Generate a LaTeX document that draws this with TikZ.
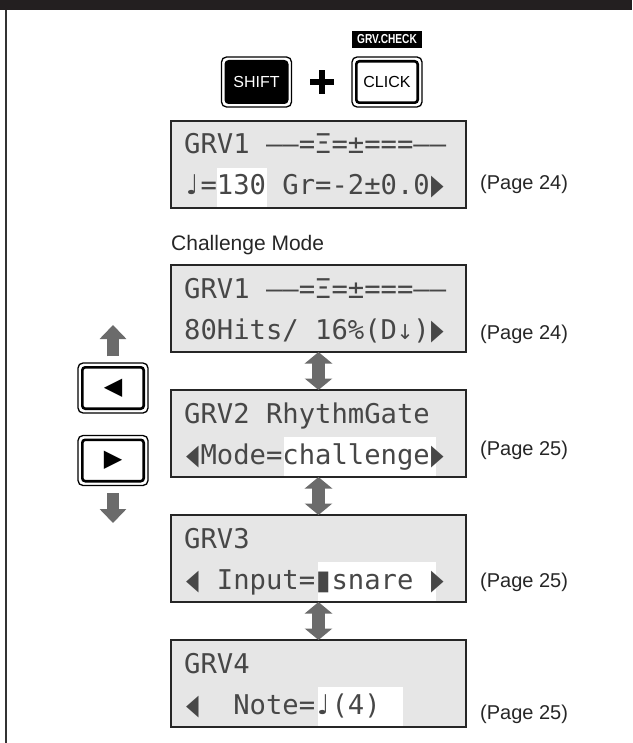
\documentclass[tikz,border=0pt]{standalone}
\usepackage{fontspec}
\setmainfont{Liberation Sans}
\newfontfamily\lcdfont{DejaVu Sans Mono}
\newfontfamily\symfont{DejaVu Sans}
\usetikzlibrary{arrows.meta, positioning, calc}
\definecolor{lcdgray}{HTML}{E6E6E6}
\definecolor{arrowgray}{HTML}{6B6B6B}
\definecolor{barblack}{HTML}{231F20}
\newcommand\lcdsym[2][0.75]{\makebox[0.602em]{\symfont\scalebox{#1}{#2}}}
\newcommand\lcdarr[1]{\makebox[0.602em]{\symfont\scalebox{0.6}[1.05]{#1}}}

\tikzset{
  lcd/.style={draw=black!85, line width=1.3pt, fill=lcdgray, minimum width=295pt,
    minimum height=87pt, inner sep=0pt, outer sep=0pt},
  lcdrow/.style={anchor=base west, inner sep=0pt, text=black!72,
    font=\lcdfont\fontsize{27.2}{27.2}\selectfont},
  pageref/.style={anchor=west, inner sep=0pt, text=black!85, font=\fontsize{20}{24}\selectfont},
  keybtn/.style={draw, line width=2.6pt, rounded corners=3pt, minimum width=61.4pt,
    minimum height=41.4pt, inner sep=0pt, outer sep=0pt, font=\fontsize{16}{16}\selectfont},
  swaparrow/.style={line width=12.5pt, draw=arrowgray,
    {Triangle[width=27pt,length=11.5pt]}-{Triangle[width=27pt,length=11.5pt]}},
  movearrow/.style={line width=12.5pt, draw=arrowgray, -{Triangle[width=26pt,length=14pt]}},
}

\begin{document}
\begin{tikzpicture}[x=1pt, y=-1pt]
  \useasboundingbox (0,0) rectangle (632,743);
  \fill[barblack] (0,0) rectangle (632,10);
  \draw[line width=2pt, black!80] (6,10) -- (6,743);

  % SHIFT + CLICK
  \node[keybtn, fill=black, text=white] (shift) at (256.5,82) {SHIFT};
  \node[keybtn] (click) at (387,82) {CLICK};
  \node[fill=black, text=white, inner sep=0pt, minimum width=70pt, minimum height=17pt,
    font=\bfseries\fontsize{13}{13}\selectfont] (grvcheck) at (387,39.5) {\scalebox{0.78}[1]{GRV.CHECK}};
  \coordinate (plus) at (322,82);
  \draw[line width=6pt] ([xshift=-12pt]plus) -- ([xshift=12pt]plus)
    ([yshift=-12pt]plus) -- ([yshift=12pt]plus);

  % cursor buttons
  \node[keybtn, font=\symfont\fontsize{24}{24}\selectfont] (prev) at (113,388) {◀};
  \node[keybtn, font=\symfont\fontsize{24}{24}\selectfont] (next) at (113,460.5) {▶};
  \foreach \b in {shift,click,prev,next}
    \draw[line width=1.3pt, rounded corners=5pt] ([shift={(-4.3pt,4.3pt)}]\b.north west)
      rectangle ([shift={(4.3pt,-4.3pt)}]\b.south east);
  \coordinate (uptip) at (113,325);
  \coordinate (downtip) at (113,523);
  \draw[movearrow] ([yshift=11pt]prev.north) -- (uptip);
  \draw[movearrow] ([yshift=-12pt]next.south) -- (downtip);

  % displays
  \node[lcd] (lcd1) at (318.5,164.5) {};
  \node[pageref, font=\fontsize{21}{24}\selectfont] (mode) at (171,245) {Challenge Mode};
  \node[lcd] (lcd2) at (318.5,308.5) {};
  \node[lcd, below=38pt of lcd2] (lcd3) {};
  \node[lcd, below=38pt of lcd3] (lcd4) {};
  \node[lcd, below=38pt of lcd4] (lcd5) {};

  % highlighted values
  \foreach \n/\a/\b in {lcd1/46/96, lcd3/113/265, lcd4/147/265, lcd5/147/232}
    \fill[white] ($(\n.north west)+(\a,47)$) rectangle ($(\n.south west)+(\b,-0.65)$);

  \node[lcdrow] (lcd1a) at ($(lcd1.north west)+(13,33)$) {GRV1 ––=Ξ=±===––};
  \node[lcdrow] (lcd1b) at ($(lcd1.north west)+(13,74)$) {\lcdsym[1]{♩}=130 Gr=-2±0.0\lcdarr{▶}};
  \node[lcdrow] (lcd2a) at ($(lcd2.north west)+(13,33)$) {GRV1 ––=Ξ=±===––};
  \node[lcdrow] (lcd2b) at ($(lcd2.north west)+(13,74)$) {80Hits/ 16\%(D\lcdsym{↓})\lcdarr{▶}};
  \node[lcdrow] (lcd3a) at ($(lcd3.north west)+(13,33)$) {GRV2 RhythmGate};
  \node[lcdrow] (lcd3b) at ($(lcd3.north west)+(13,74)$) {\lcdarr{◀}Mode=challenge\lcdarr{▶}};
  \node[lcdrow] (lcd4a) at ($(lcd4.north west)+(13,33)$) {GRV3};
  \node[lcdrow] (lcd4b) at ($(lcd4.north west)+(13,74)$) {\lcdarr{◀} Input=\lcdsym[1]{▮}snare \lcdarr{▶}};
  \node[lcdrow] (lcd5a) at ($(lcd5.north west)+(13,33)$) {GRV4};
  \node[lcdrow] (lcd5b) at ($(lcd5.north west)+(13,74)$) {\lcdarr{◀}~~Note=\lcdsym[1]{♩}(4)};

  % page references
  \foreach \n/\p/\dy in {lcd1/24/24, lcd2/24/18, lcd3/25/27, lcd4/25/20, lcd5/25/13}
    \node[pageref] (\n page) at ($(\n.south east)+(14,-\dy)$) {(Page \p)};

  \draw[swaparrow] (lcd2.south) -- (lcd3.north);
  \draw[swaparrow] (lcd3.south) -- (lcd4.north);
  \draw[swaparrow] (lcd4.south) -- (lcd5.north);
\end{tikzpicture}
\end{document}
